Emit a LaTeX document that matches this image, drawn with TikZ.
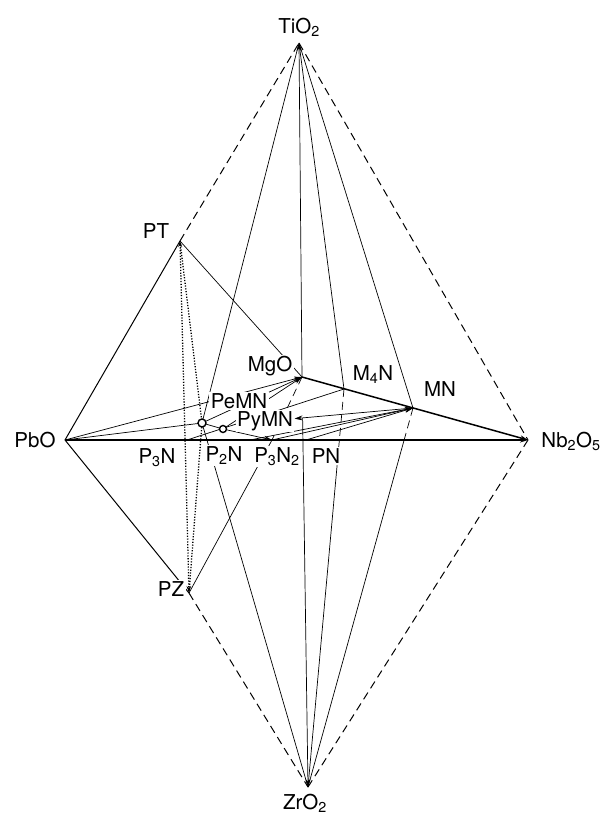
\documentclass[tikz,border=0pt]{standalone}
\usepackage{fontspec}
\setmainfont{TeX Gyre Heros}
\usetikzlibrary{arrows.meta,calc,backgrounds}
\tikzset{
  lbl/.style={font=\fontsize{20.5}{24}\selectfont, inner sep=1.5pt, anchor=base, fill=white},
  thinl/.style={line width=0.7pt},
  rim/.style={line width=1pt},
  heavy/.style={line width=1.5pt},
  hid/.style={dash pattern=on 8pt off 5pt},
  dotline/.style={line width=1.3pt, dash pattern=on 1.2pt off 1.6pt},
  arr/.style={-{Stealth[length=8pt,width=5pt]}},
  ring/.style={circle, draw, line width=1.4pt, fill=white, minimum size=8pt, inner sep=0pt},
}
\begin{document}
\begin{tikzpicture}[x=1pt, y=-1pt]
  \useasboundingbox (0,0) rectangle (605,817);
  % corners and compounds
  \coordinate (ti) at (299,43);
  \coordinate (zr) at (308,787);
  \coordinate (pb) at (65,440);
  \coordinate (nb) at (528,440);
  \coordinate (mg) at (302,377);
  \coordinate (mn) at (413,408);
  \coordinate (m4n) at (344,389);
  \coordinate (pt) at (180,241);
  \coordinate (pz) at (189,593);
  \coordinate (pe) at (202,423);
  \coordinate (py) at (223,429);
  % points on PbO--Nb2O5
  \coordinate (a3n) at (187,440);
  \coordinate (a3n2) at (250,440);
  \coordinate (aq) at (272,440);
  \coordinate (apn) at (306,440);
  \coordinate (m4x) at ($(m4n)!0.128!(zr)$);
  \coordinate (mnx) at ($(mn)!0.084!(zr)$);
  \coordinate (mgz) at ($(zr)!0.9!(mg)$);

  % labels
  \node[lbl] (lti) at (299,33.5) {TiO\textsubscript{2}};
  \node[lbl] (lzr) at (305,809) {ZrO\textsubscript{2}};
  \node[lbl] (lpb) at (35,447) {PbO};
  \node[lbl] (lnb) at (571,447) {Nb\textsubscript{2}O\textsubscript{5}};
  \node[lbl] (lpt) at (156,238) {PT};
  \node[lbl] (lpz) at (171,596) {PZ};
  \node[lbl] (lmg) at (270,371.5) {MgO};
  \node[lbl] (lm4n) at (373,380) {M\textsubscript{4}N};
  \node[lbl] (lmn) at (440,396.5) {MN};
  \node[lbl] (lpe) at (239,408.5) {PeMN};
  \node[lbl] (lpy) at (265,426.5) {PyMN};
  \node[lbl] (lp3n) at (157,463) {P\textsubscript{3}N};
  \node[lbl] (lp2n) at (224,461.5) {P\textsubscript{2}N};
  \node[lbl] (lp3n2) at (277,462) {P\textsubscript{3}N\textsubscript{2}};
  \node[lbl] (lpn) at (326,463) {PN};

  % lines, kept under the labels
  \begin{scope}[on background layer]
    \draw[rim] (pb) -- (pt) (pb) -- (pz);
    \draw[rim, hid] (pt) -- (ti) (pz) -- (zr) (ti) -- (nb) (nb) -- (zr);
    \draw[heavy, arr] (pb) -- (nb);
    \draw[heavy, arr] (mg) -- (nb);

    % from TiO2
    \draw[thinl, arr] (mg) -- (ti);
    \draw[thinl] (ti) -- (m4n) (ti) -- (mn) (ti) -- (pe);
    \draw[thinl] (pt) -- (mg);

    % into MgO
    \draw[thinl, arr] (pb) -- (mg);
    \draw[thinl, arr] (pe) -- (mg);
    \draw[thinl, arr] (py) -- (mg);
    \draw[thinl, hid] (mg) -- (aq);

    % PeMN and PyMN
    \draw[thinl] (pb) -- (pe) -- (py);
    \draw[thinl, arr] (py) -- (aq);
    \draw[thinl] (a3n) -- (m4n);
    \draw[thinl, arr] (mn) -- (lpy);
    \draw[thinl, arr] (a3n2) -- (mn);
    \draw[thinl, arr] (aq) -- (mn);
    \draw[thinl, arr] (apn) -- (mn);
    \draw[thinl] (aq) -- (pz);

    % down to ZrO2
    \draw[thinl] (pe) -- (zr);
    \draw[thinl, arr] (mgz) -- (zr);
    \draw[thinl, hid] (m4n) -- (m4x);
    \draw[thinl] (m4x) -- (zr);
    \draw[thinl, hid] (mn) -- (mnx);
    \draw[thinl] (mnx) -- (zr);

    % PT--PZ
    \draw[dotline, {Stealth[length=6pt,width=4pt]}-{Stealth[length=7pt,width=4.5pt]}] (pt) -- (pz);
    \draw[dotline] (pt) -- (pe) -- (pz);
  \end{scope}

  \node[ring] (rpe) at (pe) {};
  \node[ring, minimum size=7pt] (rpy) at (py) {};
\end{tikzpicture}
\end{document}
